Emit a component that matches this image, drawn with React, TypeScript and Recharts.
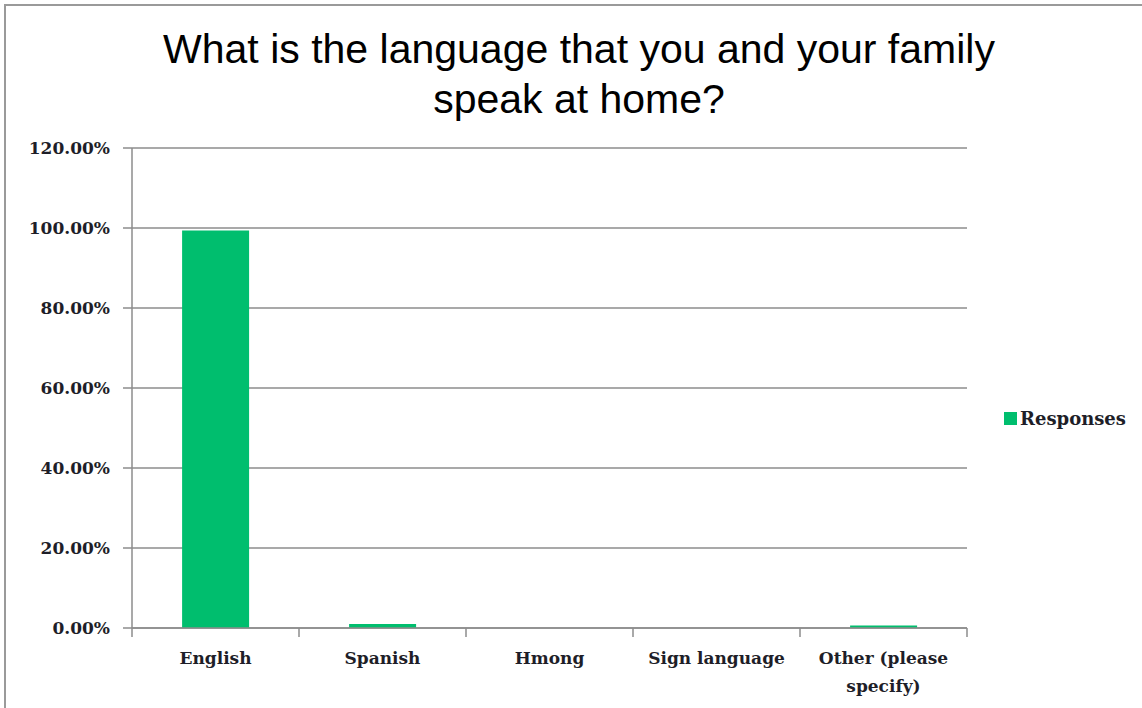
import React from 'react';
import { BarChart, Bar, XAxis, YAxis, CartesianGrid, Legend } from 'recharts';

const titleText = 'What is the language that you and your family speak at home?';
const categories = ['English', 'Spanish', 'Hmong', 'Sign language', 'Other (please specify)'];
const responses = [99.4, 1.0, 0, 0, 0.6];
const yTicks = [0, 20, 40, 60, 80, 100, 120];
const seriesName = 'Responses';

const data = categories.map((c, i) => ({ category: c, value: responses[i] }));

const GRID = '#8c8c8c';
const BAR = '#00BE6E';
const TXT = '#1e1e28';
const FONT = '"DejaVu Serif", serif';
const TICK_LEN = 9;

function wrapLabel(label: string, max = 13): string[] {
  const words = label.split(' ');
  const lines: string[] = [];
  let cur = '';
  for (const w of words) {
    const next = cur ? cur + ' ' + w : w;
    if (next.length > max && cur) {
      lines.push(cur);
      cur = w;
    } else {
      cur = next;
    }
  }
  if (cur) lines.push(cur);
  return lines;
}

const XTick = (props: any) => {
  const { x, y, payload, width, visibleTicksCount, index } = props;
  const lines = wrapLabel(String(payload.value));
  const band = width / visibleTicksCount;
  const left = x - band / 2;
  const right = x + band / 2;
  return (
    <g>
      <line x1={left} x2={left} y1={y} y2={y + TICK_LEN} stroke={GRID} strokeWidth={1.5} />
      {index === visibleTicksCount - 1 && (
        <line x1={right} x2={right} y1={y} y2={y + TICK_LEN} stroke={GRID} strokeWidth={1.5} />
      )}
      <text x={x} y={y} textAnchor="middle" fill={TXT} fontFamily={FONT} fontSize={17} fontWeight="bold">
        {lines.map((l, i) => (
          <tspan key={i} x={x} dy={i === 0 ? 36 : 28}>{l}</tspan>
        ))}
      </text>
    </g>
  );
};

const LegendContent = () => (
  <div style={{ width: 130, display: 'flex', alignItems: 'center', fontFamily: FONT, fontSize: 18, fontWeight: 'bold', color: TXT }}>
    <span style={{ display: 'inline-block', width: 13, height: 13, background: BAR, marginRight: 3 }} />
    <span>{seriesName}</span>
  </div>
);

export default function App() {
  return (
    <div style={{ position: 'fixed', left: 0, top: 0, width: 1142, height: 708, overflow: 'hidden', background: '#fff' }}>
      <div style={{ position: 'absolute', left: 4, top: 4, width: 1300, height: 900, borderLeft: '2px solid #9a9a9a', borderTop: '2px solid #9a9a9a' }} />
      <div
        style={{
          position: 'absolute',
          left: 129,
          top: 24,
          width: 900,
          textAlign: 'center',
          fontFamily: '"Liberation Sans", Arial, sans-serif',
          fontSize: 41,
          lineHeight: '50px',
          color: '#000',
        }}
      >
        {titleText}
      </div>
      <div style={{ position: 'absolute', left: 0, top: 0 }}>
        <BarChart
          width={1142}
          height={708}
          data={data}
          margin={{ top: 148, right: 45, bottom: 20, left: 0 }}
          barCategoryGap="30%"
        >
          <CartesianGrid vertical={false} stroke={GRID} strokeWidth={1.5} />
          <XAxis
            dataKey="category"
            height={60}
            axisLine={{ stroke: GRID, strokeWidth: 1.5 }}
            tickLine={false}
            tickSize={0}
            tickMargin={0}
            tick={<XTick />}
            interval={0}
          />
          <YAxis
            width={132}
            domain={[0, 120]}
            ticks={yTicks}
            tickFormatter={(v: number) => `${v.toFixed(2)}%`}
            tickSize={9}
            tickMargin={13}
            axisLine={{ stroke: GRID, strokeWidth: 1.5 }}
            tickLine={{ stroke: GRID, strokeWidth: 1.5 }}
            tick={{ fill: TXT, fontFamily: FONT, fontSize: 17, fontWeight: 'bold' }}
          />
          <Bar dataKey="value" name={seriesName} fill={BAR} isAnimationActive={false} />
          <Legend
            layout="vertical"
            align="right"
            verticalAlign="middle"
            content={<LegendContent />}
            wrapperStyle={{ left: 1004, top: 408, right: 'auto', width: 130 }}
          />
        </BarChart>
      </div>
    </div>
  );
}
